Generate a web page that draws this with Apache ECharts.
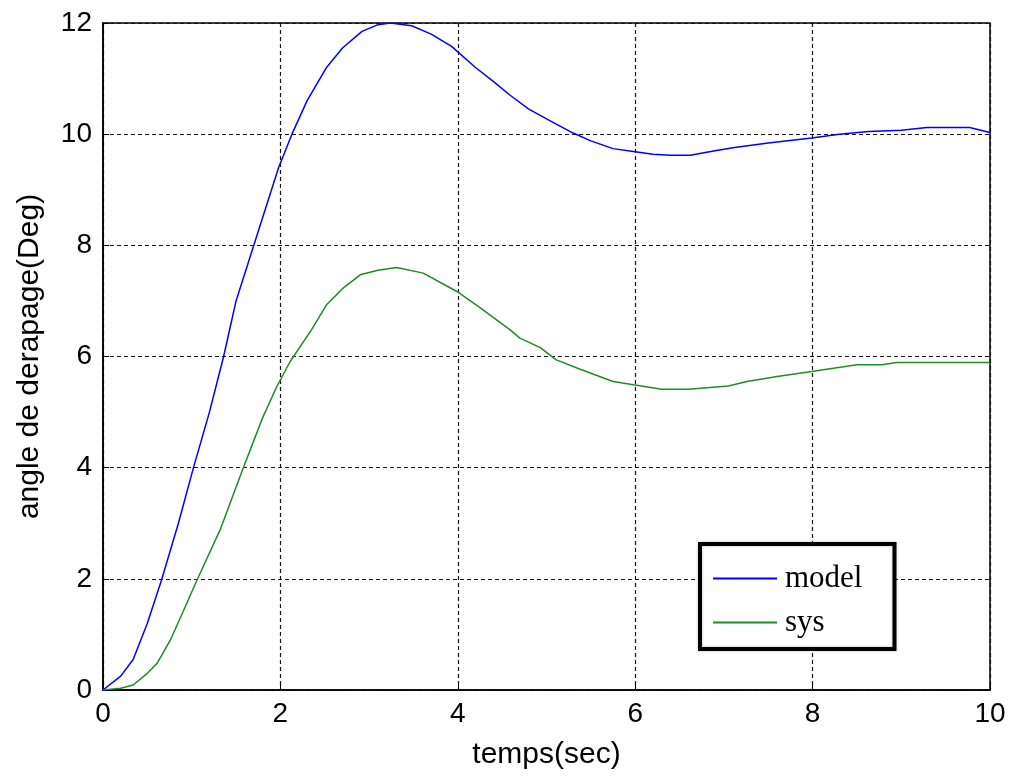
<!DOCTYPE html>
<html>
<head>
<meta charset="utf-8">
<script src="https://cdn.jsdelivr.net/npm/echarts@6/dist/echarts.min.js"></script>
<style>
  html, body { margin: 0; padding: 0; background: #ffffff; }
  #chart { width: 1016px; height: 776px; }
</style>
</head>
<body>
<div id="chart"></div>
<script>
// Sideslip angle response: reference model vs. system
const modelTime = [0, 0.2, 0.34, 0.5, 0.66, 0.85, 1.02, 1.2, 1.36, 1.5, 1.71, 1.98, 2.13, 2.3, 2.52, 2.7, 2.92, 3.1, 3.24, 3.48, 3.7, 3.93, 4.2, 4.4, 4.59, 4.8, 5.11, 5.3, 5.5, 5.75, 5.98, 6.2, 6.4, 6.62, 6.9, 7.12, 7.5, 7.99, 8.3, 8.63, 9.0, 9.29, 9.77, 10];
const modelAngle = [0, 0.25, 0.55, 1.2, 1.98, 3.0, 4.0, 5.0, 6.0, 7.0, 8.05, 9.4, 10.0, 10.6, 11.2, 11.55, 11.85, 11.97, 12.0, 11.95, 11.8, 11.58, 11.2, 10.95, 10.7, 10.45, 10.18, 10.02, 9.88, 9.74, 9.69, 9.64, 9.62, 9.62, 9.7, 9.76, 9.84, 9.93, 10.0, 10.05, 10.07, 10.12, 10.12, 10.03];

const sysTime = [0, 0.2, 0.34, 0.5, 0.61, 0.76, 0.9, 1.06, 1.32, 1.58, 1.8, 1.96, 2.11, 2.35, 2.52, 2.7, 2.9, 3.1, 3.31, 3.61, 3.99, 4.25, 4.59, 4.7, 4.93, 5.11, 5.38, 5.75, 5.98, 6.3, 6.6, 7.05, 7.26, 7.6, 7.99, 8.5, 8.78, 8.95, 9.5, 10];
const sysAngle = [0, 0.03, 0.09, 0.3, 0.48, 0.9, 1.4, 1.98, 2.88, 3.99, 4.9, 5.46, 5.91, 6.48, 6.93, 7.22, 7.47, 7.55, 7.6, 7.5, 7.17, 6.88, 6.48, 6.33, 6.16, 5.94, 5.77, 5.55, 5.49, 5.41, 5.41, 5.47, 5.55, 5.64, 5.73, 5.85, 5.85, 5.89, 5.89, 5.89];

const seriesNames = ['model', 'sys'];
const xTitle = 'temps(sec)';
const yTitle = 'angle de derapage(Deg)';

const pairs = (t, v) => t.map((x, i) => [x, v[i]]);

const sansFont = '"Liberation Sans", Arial, sans-serif';
const serifFont = '"Liberation Serif", "Times New Roman", serif';

const gridLine = { show: true, lineStyle: { color: '#111', width: 1.2, type: [4, 3] } };

const chart = echarts.init(document.getElementById('chart'), null, { renderer: 'canvas' });
chart.setOption({
  backgroundColor: '#ffffff',
  animation: false,
  grid: {
    left: 103, right: 26, top: 23, bottom: 86,
    show: true, borderColor: '#000', borderWidth: 1.5, backgroundColor: '#ffffff'
  },
  xAxis: {
    type: 'value', min: 0, max: 10, interval: 2,
    name: xTitle, nameLocation: 'middle', nameGap: 50,
    nameTextStyle: { fontFamily: sansFont, fontSize: 30, color: '#000' },
    axisLine: { show: true, lineStyle: { color: '#000', width: 1.5 } },
    axisTick: { show: true, inside: true, length: 6, lineStyle: { color: '#000' } },
    axisLabel: { fontFamily: sansFont, fontSize: 28, color: '#000', margin: 10 },
    splitLine: gridLine
  },
  yAxis: {
    type: 'value', min: 0, max: 12, interval: 2,
    name: yTitle, nameLocation: 'middle', nameGap: 58, nameRotate: 90,
    nameTextStyle: { fontFamily: sansFont, fontSize: 30, color: '#000' },
    axisLine: { show: true, lineStyle: { color: '#000', width: 1.5 } },
    axisTick: { show: true, inside: true, length: 6, lineStyle: { color: '#000' } },
    axisLabel: { fontFamily: sansFont, fontSize: 28, color: '#000', margin: 11 },
    splitLine: gridLine
  },
  legend: {
    data: seriesNames,
    orient: 'vertical',
    left: 700, top: 544,
    padding: [19, 32, 11, 13],
    itemGap: 13,
    itemWidth: 64, itemHeight: 2,
    icon: 'rect',
    textStyle: { fontFamily: serifFont, fontSize: 31, color: '#000', lineHeight: 30, padding: [0, 0, 0, 3] },
    backgroundColor: '#ffffff',
    borderColor: '#000', borderWidth: 4,
    shadowColor: 'rgba(0,0,0,0.25)', shadowBlur: 3,
    selectedMode: false
  },
  series: [
    {
      name: seriesNames[0], type: 'line', data: pairs(modelTime, modelAngle),
      symbol: 'none', smooth: false,
      itemStyle: { color: '#0000ff' },
      lineStyle: { color: '#0000ff', width: 1.5 }
    },
    {
      name: seriesNames[1], type: 'line', data: pairs(sysTime, sysAngle),
      symbol: 'none', smooth: false,
      itemStyle: { color: '#1f8a2a' },
      lineStyle: { color: '#1f8a2a', width: 1.5 }
    }
  ]
});
</script>
</body>
</html>
